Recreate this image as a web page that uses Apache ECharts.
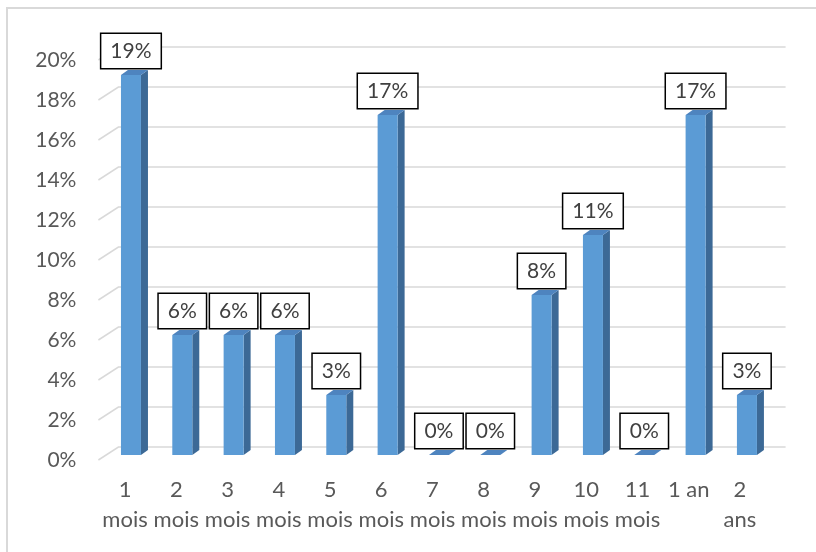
<!DOCTYPE html>
<html>
<head>
<meta charset="utf-8">
<script src="https://cdn.jsdelivr.net/npm/echarts@6/dist/echarts.min.js"></script>
<style>
  html, body { margin: 0; padding: 0; background: #fff; }
  #chart { width: 816px; height: 552px; }
</style>
</head>
<body>
<div id="chart"></div>
<script>
// durées (axe X) et parts en %
const categories = ['1\nmois', '2\nmois', '3\nmois', '4\nmois', '5\nmois', '6\nmois', '7\nmois',
  '8\nmois', '9\nmois', '10\nmois', '11\nmois', '1 an', '2\nans']
const shares = [19, 6, 6, 6, 3, 17, 0, 0, 8, 11, 0, 17, 3]
const yTicks = [0, 2, 4, 6, 8, 10, 12, 14, 16, 18, 20]

const font = 'Lato'
const front = '#5B9BD5'
const side = '#3C6996'
const topFace = '#4E84BF'
const depthX = 7
const depthY = 5
const halfBar = 10

let myChart = echarts.init(document.getElementById('chart'))
myChart.setOption({
  animation: false,
  backgroundColor: '#fff',
  graphic: [{
    type: 'rect',
    shape: { x: 7, y: 8, width: 900, height: 600 },
    style: { fill: null, stroke: '#D9D9D9', lineWidth: 2 },
    silent: true
  }],
  grid: [
    { left: 105.3, right: 43.4, top: 55, bottom: 97 },
    { left: 99.4, right: 50.4, top: 60, bottom: 92 }
  ],
  xAxis: [
    { gridIndex: 0, type: 'category', data: categories, show: false },
    {
      gridIndex: 1, type: 'category', data: categories,
      axisLine: { show: false }, axisTick: { show: false },
      axisLabel: { interval: 0, margin: 15, lineHeight: 30, fontSize: 22, color: '#595959', fontFamily: font }
    }
  ],
  yAxis: [
    { gridIndex: 0, type: 'value', min: 0, max: 20, interval: 2, show: false },
    {
      gridIndex: 1, type: 'value', min: 0, max: 20, interval: 2,
      axisLine: { show: false }, axisTick: { show: false }, splitLine: { show: false },
      axisLabel: { formatter: '{value}%', margin: 23, fontSize: 21, color: '#595959', fontFamily: font }
    }
  ],
  series: [
    {
      // murs / quadrillage en perspective
      type: 'custom',
      xAxisIndex: 1,
      yAxisIndex: 1,
      z: 1,
      silent: true,
      data: yTicks.map(v => [0, v]),
      renderItem(params, api) {
        const p = api.coord([0, api.value(1)])
        const cs = params.coordSys
        return {
          type: 'polyline',
          shape: { points: [[cs.x - 1, p[1]], [cs.x + 19, p[1] - 13], [cs.x + cs.width + 20, p[1] - 13]] },
          style: { stroke: '#D9D9D9', lineWidth: 1.5, fill: null }
        }
      }
    },
    {
      type: 'bar',
      xAxisIndex: 0,
      yAxisIndex: 0,
      z: 3,
      data: shares,
      barWidth: 20,
      itemStyle: { color: front },
      label: {
        show: true,
        position: 'top',
        distance: 7,
        formatter: '{c}%',
        fontSize: 21,
        fontFamily: font,
        color: '#404040',
        backgroundColor: '#fff',
        borderColor: '#000',
        borderWidth: 1.5,
        padding: [7, 9, 6, 9]
      }
    },
    {
      // faces latérales et dessus des colonnes
      type: 'custom',
      xAxisIndex: 0,
      yAxisIndex: 0,
      z: 2,
      silent: true,
      data: shares.map((v, i) => [i, v]),
      renderItem(params, api) {
        const t = api.coord([api.value(0), api.value(1)])
        const b = api.coord([api.value(0), 0])
        const x0 = t[0] - halfBar
        const x1 = t[0] + halfBar
        return {
          type: 'group',
          children: [
            {
              type: 'polygon',
              shape: { points: [[x1, t[1]], [x1 + depthX, t[1] - depthY], [x1 + depthX, b[1] - depthY], [x1, b[1]]] },
              style: { fill: side }
            },
            {
              type: 'polygon',
              shape: { points: [[x0, t[1]], [x1, t[1]], [x1 + depthX, t[1] - depthY], [x0 + depthX, t[1] - depthY]] },
              style: { fill: topFace }
            }
          ]
        }
      }
    }
  ]
})
</script>
</body>
</html>
